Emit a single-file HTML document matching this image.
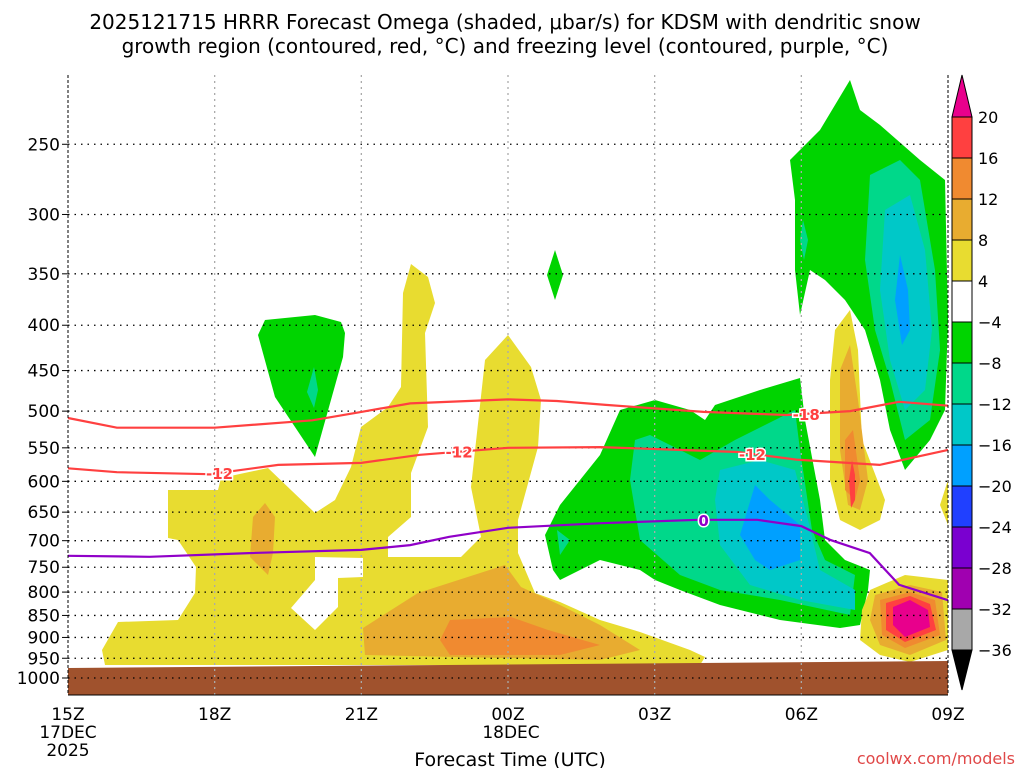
<!DOCTYPE html>
<html><head><meta charset="utf-8"><style>
body{margin:0;background:#fff;width:1024px;height:768px;overflow:hidden;font-family:"Liberation Sans",sans-serif}
svg text{font-family:"DejaVu Sans","Liberation Sans",sans-serif}
</style></head><body>
<svg id="chart" width="1024" height="768" viewBox="0 0 1024 768" xmlns="http://www.w3.org/2000/svg">
<g font-size="20" fill="#000" text-anchor="middle">
<text x="505" y="29">2025121715 HRRR Forecast Omega (shaded, μbar/s) for KDSM with dendritic snow</text>
<text x="505" y="53">growth region (contoured, red, °C) and freezing level (contoured, purple, °C)</text>
</g>
<g id="shade" stroke="none">
<!-- yellow low-level band -->
<polygon fill="#e8dc30" points="102,650 118,622 178,620 195,593 196,567 178,540 168,538 168,490 218,490 221,478 268,468 315,513 335,500 351,467 361,427 388,407 401,387 403,293 411,264 428,277 435,303 425,333 428,427 411,473 411,517 388,537 388,557 461,557 481,537 471,487 485,360 508,335 531,367 541,400 538,447 518,520 518,553 535,593 560,602 600,620 640,632 690,650 705,657 700,665 105,665"/>
<polygon fill="#fff" points="315,557 363,558 363,577 338,578 338,607 315,630 291,608 315,580"/>
<polygon fill="#e8ac30" points="265,503 275,517 273,553 268,575 250,557 253,517"/>
<polygon fill="#e8ac30" points="363,628 418,593 505,565 521,587 560,605 600,625 640,650 600,660 365,655"/>
<polygon fill="#f08a30" points="450,620 511,617 548,630 600,645 560,655 450,655 440,640"/>
<!-- green upper-left -->
<polygon fill="#00d400" points="265,320 315,315 341,322 345,333 343,357 315,457 275,397 258,335"/>
<polygon fill="#00d88a" points="314,367 318,390 314,408 307,392"/>
<polygon fill="#00d400" points="555,250 563,275 555,300 547,275"/>
<!-- big negative omega region -->
<polygon fill="#00d400" points="545,535 560,505 600,455 620,410 655,400 690,410 705,420 715,405 760,390 800,378 805,420 820,500 825,540 845,560 870,570 868,590 860,625 840,628 780,620 720,605 680,590 655,580 640,570 600,560 560,580 553,570"/>
<polygon fill="#00d88a" points="635,440 650,435 700,460 735,440 795,410 800,450 812,530 825,560 855,575 850,615 780,600 720,590 680,575 640,540 630,480"/>
<polygon fill="#00d88a" points="557,530 570,540 560,555"/>
<polygon fill="#00c8c8" points="720,470 760,460 795,470 808,520 820,570 855,590 855,610 800,600 750,585 720,545 715,500"/>
<polygon fill="#00a0ff" points="755,485 770,500 800,525 800,560 770,570 755,560 740,535"/>
<!-- upper right -->
<polygon fill="#00d400" points="790,160 820,130 850,80 860,110 880,125 920,160 945,180 948,320 945,410 930,440 905,470 890,430 880,380 865,330 845,300 825,280 810,270 800,315 795,270 795,200"/>
<polygon fill="#00d88a" points="870,175 900,160 920,180 935,270 940,350 930,420 905,440 890,380 875,330 865,260"/>
<polygon fill="#00d88a" points="803,220 808,240 804,260 800,240"/>
<polygon fill="#00c8c8" points="885,210 910,195 925,250 932,330 925,390 905,410 890,360 880,290"/>
<polygon fill="#00a0ff" points="900,255 908,290 910,330 902,345 895,300"/>
<!-- plume near 07Z -->
<polygon fill="#e8dc30" points="835,330 850,310 858,350 862,440 885,500 880,520 860,530 840,520 830,480 830,380"/>
<polygon fill="#e8ac30" points="840,370 850,345 858,400 868,480 860,510 848,505 840,450"/>
<polygon fill="#f08a30" points="845,440 853,430 860,480 855,500 845,490"/>
<polygon fill="#ff4040" points="852,460 855,475 855,500 851,508 849,480"/>
<polygon fill="#e8dc30" points="948,480 940,505 948,525"/>
<!-- bottom right hot spot -->
<polygon fill="#e8dc30" points="870,590 905,575 948,580 948,650 910,662 880,655 860,640 862,610"/>
<polygon fill="#e8ac30" points="875,595 910,585 942,592 946,640 910,655 880,645 870,620"/>
<polygon fill="#f08a30" points="880,600 910,592 935,600 940,635 905,648 882,635"/>
<polygon fill="#ff4040" points="886,603 910,596 930,604 936,630 905,642 886,630"/>
<polygon fill="#e8008c" points="893,607 910,600 928,610 930,627 905,637 893,625"/>
</g>
<polygon points="68,668 948,661 948,695 68,695" fill="#a0522d"/>
<g id="grid"></g>
<g id="lines"></g>
<g id="axes" font-size="17" fill="#000"></g>
<g id="cbar"></g>
<text x="510" y="766" font-size="19" text-anchor="middle">Forecast Time (UTC)</text>
<text x="1015" y="764" font-size="16" text-anchor="end" fill="#e04848">coolwx.com/models</text>
</svg>
<script>
const NS='http://www.w3.org/2000/svg';
const pLevels=[250,300,350,400,450,500,550,600,650,700,750,800,850,900,950,1000];
const xTickHours=[0,3,6,9,12,15,18];
const xTickLabels=['15Z','18Z','21Z','00Z','03Z','06Z','09Z'];
const m18Hours=[0,1,3,5,6,7,9,10,11,13,14.7,16,17,18];
const m18Press=[509,522,522,512,501,490,485,487,492,501,505,500,488,493];
const m12Hours=[0,1,2.9,4.3,6,7.2,9,10.9,12.5,13.7,14.9,16.6,18];
const m12Press=[580,586,589,575,572,560,550,549,553,556,567,575,553];
const frzHours=[0,1.67,3.7,6,7,7.8,9,10.9,12.9,14.1,15,15.6,16.4,17,18];
const frzPress=[728,730,723,717,708,693,677,669,663,663,674,699,723,785,817];
const cbarLabels=['20','16','12','8','4','−4','−8','−12','−16','−20','−24','−28','−32','−36'];
const cbarColors=['#ff4040','#f08a30','#e8ac30','#e8dc30','#ffffff','#00d400','#00d88a','#00c8c8','#00a0ff','#2040ff','#7a00d0','#a000b0','#a8a8a8'];
const X0=68,X1=948;
function xs(h){return X0+(X1-X0)*h/18;}
function ys(p){return 678-385*Math.log(1000/p);}
function mk(t,a,par){const e=document.createElementNS(NS,t);for(const k in a)e.setAttribute(k,a[k]);par.appendChild(e);return e;}
const grid=document.getElementById('grid'),axes=document.getElementById('axes'),lines=document.getElementById('lines'),cbar=document.getElementById('cbar');
pLevels.forEach(p=>{
 const l=mk('line',{x1:X0,x2:X1,y1:ys(p),y2:ys(p),stroke:'#000','stroke-width':1.3,'stroke-dasharray':'1.5 5'},grid);
 
 
 const t=mk('text',{x:60,y:ys(p)+6,'text-anchor':'end'},axes);t.textContent=String(p);
 
 
 mk('line',{x1:X0-6,x2:X0,y1:ys(p),y2:ys(p),stroke:'#000'},axes);
});
xTickHours.forEach((h,i)=>{
 if(i>0&&i<6){const l=mk('line',{x1:xs(h),x2:xs(h),y1:75,y2:695,stroke:'#aaa','stroke-width':1.3,'stroke-dasharray':'2 4'},grid);
 
 }
 const t=mk('text',{x:xs(h),y:720,'text-anchor':'middle'},axes);t.textContent=xTickLabels[i];
 
 
});
[[68,738,'17DEC'],[68,756,'2025'],[511,738,'18DEC']].forEach(a=>{const t=mk('text',{x:a[0],y:a[1],'text-anchor':'middle'},axes);t.textContent=a[2];
 
 });
mk('line',{x1:X0,x2:X0,y1:75,y2:695,stroke:'#000','stroke-dasharray':'3 2'},axes);
mk('line',{x1:X1,x2:X1,y1:75,y2:695,stroke:'#000','stroke-dasharray':'3 2'},axes);
mk('line',{x1:X0,x2:X1,y1:695,y2:695,stroke:'#000'},axes);
function drawLine(hs,ps,col,name,labels){
 const d=hs.map((h,i)=>(i?'L':'M')+xs(h).toFixed(1)+','+ys(ps[i]).toFixed(1)).join('');
 const pa=mk('path',{d:d,fill:'none',stroke:col,'stroke-width':2.2},lines);
 
 
 labels.forEach(L=>{
  let k=0;while(k<hs.length-2&&hs[k+1]<L.h)k++;
  const f=(L.h-hs[k])/(hs[k+1]-hs[k]);const p=ps[k]+(ps[k+1]-ps[k])*f;
  const t=mk('text',{x:xs(L.h),y:ys(p)+6,'text-anchor':'middle','font-size':15,'font-weight':'bold',fill:col,stroke:'#fff','stroke-width':3,'paint-order':'stroke'},lines);
  t.textContent=L.t;
  
  
 });
}
drawLine(m18Hours,m18Press,'#ff4040','dgz-minus18-contour',[{h:15.1,t:'-18'}]);
drawLine(m12Hours,m12Press,'#ff4040','dgz-minus12-contour',[{h:3.1,t:'-12'},{h:8,t:'-12'},{h:14,t:'-12'}]);
drawLine(frzHours,frzPress,'#9000c8','freezing-level-contour',[{h:13,t:'0'}]);
// colorbar
const CX=952,CW=20,CT=117,CH=41;
mk('polygon',{points:`${CX},${CT} ${CX+CW/2},75 ${CX+CW},${CT}`,fill:'#e8008c',stroke:'#000'},cbar);
cbarColors.forEach((c,i)=>{const r=mk('rect',{x:CX,y:CT+i*CH,width:CW,height:CH,fill:c,stroke:'#000'},cbar);
 
 });
const CB=CT+CH*cbarColors.length;
mk('polygon',{points:`${CX},${CB} ${CX+CW/2},690 ${CX+CW},${CB}`,fill:'#000',stroke:'#000'},cbar);
cbarLabels.forEach((s,i)=>{const t=mk('text',{x:978,y:CT+i*CH+6,'font-size':16},cbar);t.textContent=s;
 
 });
</script>
</body></html>
